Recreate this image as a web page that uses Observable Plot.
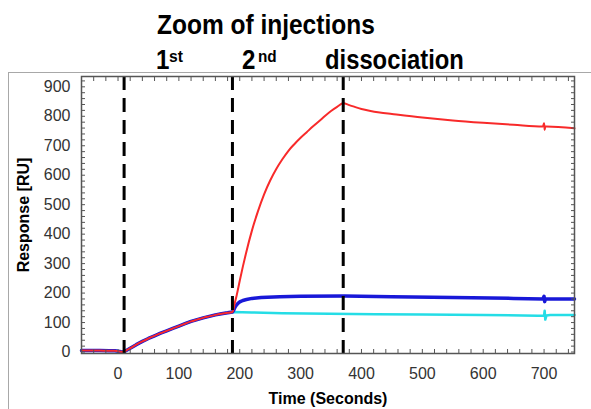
<!DOCTYPE html>
<html><head><meta charset="utf-8">
<script src="https://cdn.jsdelivr.net/npm/d3@7"></script>
<script src="https://cdn.jsdelivr.net/npm/@observablehq/plot@0.6"></script>
<style>
body{margin:0;background:#fff;}
#wrap{position:relative;width:591px;height:409px;overflow:hidden;font-family:"Liberation Sans",Arial,sans-serif;background:#fff;}
.t{position:absolute;font-weight:bold;color:#000;white-space:nowrap;line-height:1;transform-origin:0 0;}
#outer{position:absolute;left:8px;top:72px;width:640px;height:400px;border-left:1.5px solid #a8a8a8;border-top:1.5px solid #a8a8a8;}
#chart{position:absolute;left:0;top:0;}
</style></head><body>
<div id="wrap">
<div id="outer"></div>
<div id="chart"></div>
<div class="t" style="left:157px;top:11px;font-size:28px;transform:scaleX(0.875)">Zoom of injections</div>
<div class="t" style="left:156px;top:46px;font-size:28px;transform:scaleX(0.86)">1</div>
<div class="t" style="left:169px;top:48px;font-size:17px;transform:scaleX(0.92)">st</div>
<div class="t" style="left:242px;top:46px;font-size:28px;transform:scaleX(0.86)">2</div>
<div class="t" style="left:258px;top:48px;font-size:17px;transform:scaleX(0.9)">nd</div>
<div class="t" style="left:325px;top:46px;font-size:28px;transform:scaleX(0.85)">dissociation</div>
</div>
<script>
// Event times (dashed lines): 1st injection, 2nd injection, dissociation start
const injectionTimes = [10, 188, 370];

// Shared first-injection phase (all three curves overlap)
const sharedT = [-60, -45, -30, -15, -5, 0, 5, 9, 15, 20, 30, 40, 50, 60, 70, 80, 90, 100, 110, 120, 130, 140, 150, 160, 170, 180, 188];
const sharedR = [5, 5, 5, 4, 4, 3, 1, 0, 7, 13, 25, 36, 46, 55, 64, 72, 80, 88, 96, 104, 110, 116, 121, 126, 130, 133, 136];

// Red series after 2nd injection
const redT = [192, 195, 200, 205, 210, 220, 230, 240, 250, 260, 270, 280, 290, 300, 310, 320, 335, 350, 360, 370, 380, 390, 400, 413, 430, 450, 500, 550, 600, 650, 698, 700, 701, 702, 704, 750];
const redR = [168, 193, 242, 289, 333, 412, 478, 535, 582, 621, 654, 683, 706, 727, 746, 765, 792, 818, 832, 844, 838, 831, 825, 819, 813, 808, 796, 786, 778, 771, 765, 776, 754, 765, 765, 759];

// Blue series after 2nd injection
const blueT = [190, 192, 194, 197, 200, 205, 211, 220, 235, 266, 300, 372, 450, 550, 650, 698, 700, 701, 702, 704, 750];
const blueR = [142, 151, 158, 165, 170, 175, 178, 182, 185, 188, 189, 190, 188, 185, 182, 180, 189, 171, 180, 180, 180];

// Cyan series after 2nd injection
const cyanT = [220, 270, 348, 423, 500, 600, 690, 700, 701, 702, 704, 710, 750];
const cyanR = [134, 132, 130, 128, 127, 126, 123, 124, 140, 110, 124, 126, 126];

const xTicks = [0, 100, 200, 300, 400, 500, 600, 700];
const yTicks = [0, 100, 200, 300, 400, 500, 600, 700, 800, 900];
const xTitle = "Time (Seconds)";
const yTitle = "Response [RU]";

const minorX = d3.range(-60, 751, 20);
const minorY = d3.range(0, 931, 20);

const rows = (ts, rs) => ts.map((t, i) => ({t, r: rs[i]}));
const shared = rows(sharedT, sharedR);
const red = shared.concat(rows(redT, redR));
const blue = shared.concat(rows(blueT, blueR));
const cyan = shared.concat(rows(cyanT, cyanR));

const tickStyle = {tickSize: -4, fill: "none", stroke: "#555", label: null};

const chart = Plot.plot({
  width: 591, height: 409,
  marginLeft: 81, marginRight: 17, marginTop: 76, marginBottom: 56,
  style: {background: "transparent", fontFamily: "Liberation Sans, Arial, sans-serif"},
  x: {domain: [-60, 750]},
  y: {domain: [-5, 935]},
  marks: [
    Plot.line(cyan, {x: "t", y: "r", stroke: "#25dde6", strokeWidth: 2.5}),
    Plot.line(blue, {x: "t", y: "r", stroke: "#1818d8", strokeWidth: 3.5}),
    Plot.line(red, {x: "t", y: "r", stroke: "#f82a2a", strokeWidth: 2, curve: "monotone-x"}),
    Plot.ruleX(injectionTimes, {stroke: "#000", strokeWidth: 3, strokeDasharray: "14,8"}),
    Plot.frame({stroke: "#555", strokeWidth: 1.5}),
    Plot.axisX({anchor: "bottom", ticks: minorX, ...tickStyle}),
    Plot.axisX({anchor: "top", ticks: minorX, ...tickStyle}),
    Plot.axisY({anchor: "left", ticks: minorY, ...tickStyle}),
    Plot.axisY({anchor: "right", ticks: minorY, ...tickStyle}),
    Plot.axisX({anchor: "bottom", ticks: xTicks, tickSize: 0, tickPadding: 14, fontSize: 16, fill: "#333", label: null}),
    Plot.axisY({anchor: "left", ticks: yTicks, tickSize: 0, tickPadding: 11, fontSize: 16, fill: "#333", label: null}),
    Plot.text([yTitle], {frameAnchor: "left", dx: -58, rotate: -90, textAnchor: "middle", lineAnchor: "middle", fontSize: 16, fontWeight: "bold", fill: "#000"}),
    Plot.text([xTitle], {frameAnchor: "bottom", dy: 45, textAnchor: "middle", lineAnchor: "middle", fontSize: 16, fontWeight: "bold", fill: "#000"})
  ]
});
document.getElementById("chart").appendChild(chart);
</script>
</body></html>
